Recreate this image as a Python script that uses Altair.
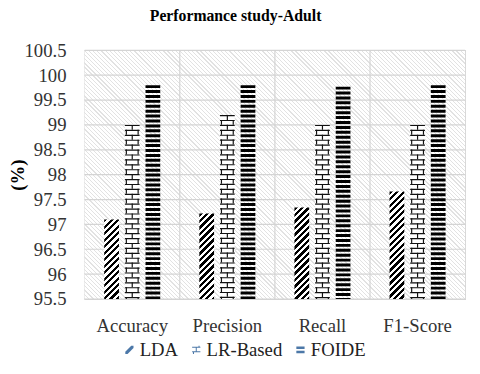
import altair as alt
import pandas as pd

# ---- data ----
categories = ["Accuracy", "Precision", "Recall", "F1-Score"]
series = ["LDA", "LR-Based", "FOIDE"]
lda = [97.1, 97.22, 97.34, 97.66]
lr_based = [99.0, 99.2, 99.0, 99.0]
foide = [99.8, 99.8, 99.77, 99.8]
y_ticks = [95.5, 96, 96.5, 97, 97.5, 98, 98.5, 99, 99.5, 100, 100.5]

# ---- style constants ----
W, H = 387, 253
Y0, Y1 = y_ticks[0], y_ticks[-1]
BAR_W = 15
STEP = 21
FONT = "Liberation Serif"
GRID = "#d4d4d4"
FS = 19

rows = []
for s, vals in zip(series, [lda, lr_based, foide]):
    for c, v in zip(categories, vals):
        rows.append({"cat": c, "series": s, "v": v})
df = pd.DataFrame(rows)

xenc = alt.X("cat:N", sort=categories,
             scale=alt.Scale(paddingInner=0, paddingOuter=0),
             axis=alt.Axis(title=None, labelAngle=0, domain=False, ticks=False,
                           labelFont=FONT, labelFontSize=FS, labelColor="#333333",
                           labelPadding=18))
yscale = alt.Scale(domain=[Y0, Y1], zero=False, nice=False)
yaxis = alt.Axis(title="(%)", values=y_ticks, labelExpr="'' + datum.value",
                 labelOverlap=False, domain=False, ticks=False, grid=False,
                 labelFont=FONT, labelFontSize=FS, labelColor="#333333",
                 labelPadding=19, titleFont=FONT, titleFontSize=FS,
                 titleFontWeight="bold", titleColor="#000000", titlePadding=-4)


def yv(field="v:Q"):
    return alt.Y(field, scale=yscale, axis=yaxis)


def stripe_stops(length, period, dark, c_dark, c_light):
    stops = []
    n = int(length // period) + 2
    for i in range(n):
        a = i * period / length
        b = (i * period + dark) / length
        e = (i + 1) * period / length
        if a > 1:
            break
        stops += [{"offset": min(a, 1), "color": c_dark},
                  {"offset": min(b, 1), "color": c_dark},
                  {"offset": min(b, 1), "color": c_light},
                  {"offset": min(e, 1), "color": c_light}]
    return stops


# background "\" hatch over the whole plot area
m = (W + H) / (W * W + H * H)
bg_grad = {"gradient": "linear", "x1": 0, "y1": 1, "x2": m * W, "y2": 1 - m * H,
           "stops": stripe_stops(W + H, 4.2, 1.2, "#e2e2e2", "#ffffff")}
bg = alt.Chart(pd.DataFrame({"a": [0]})).mark_rect(fill=bg_grad).encode(
    x=alt.value(0), x2=alt.value("width"), y=alt.value(0), y2=alt.value("height"))

hgrid = alt.Chart(pd.DataFrame({"v": y_ticks})).mark_rule(color=GRID, strokeWidth=1.2).encode(
    y=yv())
vgrid = alt.Chart(pd.DataFrame({"cat": categories[1:]})).mark_rule(
    color=GRID, strokeWidth=1.2, xOffset=-W / 8).encode(x=xenc)

layers = [bg, hgrid, vgrid]

# LDA bars: "/" diagonal stripes via per-bar gradient
for c, v in zip(categories, lda):
    h = (v - Y0) / (Y1 - Y0) * H
    w = BAR_W
    k = (w + h) / (w * w + h * h)
    g = {"gradient": "linear", "x1": 0, "y1": 0, "x2": k * w, "y2": k * h,
         "stops": stripe_stops(w + h, 6.6, 3.4, "#000000", "#ffffff")}
    d = df[(df.series == "LDA") & (df.cat == c)]
    layers.append(alt.Chart(d).mark_bar(width=BAR_W, xOffset=-STEP, fill=g).encode(
        x=xenc, y=yv(), y2=alt.datum(Y0)))

# LR-Based: brick pattern
dlr = df[df.series == "LR-Based"]
layers.append(alt.Chart(dlr).mark_bar(width=BAR_W, fill="white").encode(
    x=xenc, y=yv(), y2=alt.datum(Y0)))
layers.append(alt.Chart(dlr).mark_rule(strokeWidth=BAR_W, strokeDash=[1.2, 3.8], color="#111").encode(
    x=xenc, y=yv(), y2=alt.datum(Y0)))
layers.append(alt.Chart(dlr).mark_rule(strokeWidth=1.2, strokeDash=[5, 5], color="#111").encode(
    x=xenc, y=yv(), y2=alt.datum(Y0)))
for off in (-6, 6):
    layers.append(alt.Chart(dlr).mark_rule(strokeWidth=1.2, strokeDash=[5, 5], strokeDashOffset=5,
                                           xOffset=off, color="#111").encode(
        x=xenc, y=yv(), y2=alt.datum(Y0)))

# FOIDE: horizontal stripes
dfo = df[df.series == "FOIDE"]
layers.append(alt.Chart(dfo).mark_rule(strokeWidth=BAR_W, strokeDash=[3, 2], xOffset=STEP, color="#000").encode(
    x=xenc, y=yv(), y2=alt.datum(Y0)))

# legend carrier
sym_lda = "M-1,1 L-0.45,1 L1,-0.45 L1,-1 L0.45,-1 L-1,0.45 Z"
sym_lr = ("M-1,-0.75 H1 V-0.5 H-1 Z M-1,0.35 H1 V0.6 H-1 Z M-0.12,-0.5 H0.12 V0.35 H-0.12 Z "
          "M0.55,-1 H0.8 V-0.75 H0.55 Z M-0.8,0.6 H-0.55 V1 H-0.8 Z")
sym_fo = "M-1,-0.8 H1 V-0.2 H-1 Z M-1,0.2 H1 V0.8 H-1 Z"
leg = alt.Chart(df).mark_point(filled=True, opacity=0).encode(
    x=xenc, y=yv(),
    shape=alt.Shape("series:N", sort=series,
                    scale=alt.Scale(domain=series, range=[sym_lda, sym_lr, sym_fo]),
                    legend=alt.Legend(title=None, orient="none", legendX=36, legendY=295,
                                      direction="horizontal", symbolSize=70,
                                      symbolFillColor="#000", symbolStrokeWidth=0,
                                      symbolOpacity=1, labelFont=FONT, labelFontSize=FS,
                                      labelColor="#222", labelOffset=1, columnPadding=8)))
layers.append(leg)

chart = alt.layer(*layers).properties(
    width=W, height=H,
    title=alt.TitleParams("Performance study-Adult", font=FONT, fontSize=16, fontWeight="bold",
                          color="#000", anchor="middle", dx=-40, offset=18),
    autosize=alt.AutoSizeParams(type="none"),
    padding={"left": 78, "top": 40, "right": 7, "bottom": 60},
).configure(
    font=FONT,
    style={"guide-label": {"font": FONT, "fontSize": FS},
           "guide-title": {"font": FONT}},
).configure_view(stroke=GRID, strokeWidth=1.2).configure_legend(
    labelFont=FONT, labelFontSize=FS).configure_axis(labelFont=FONT).configure_axisY(labelOverlap=False)

chart.save("out.html", embed_options={"renderer": "svg", "actions": False})
